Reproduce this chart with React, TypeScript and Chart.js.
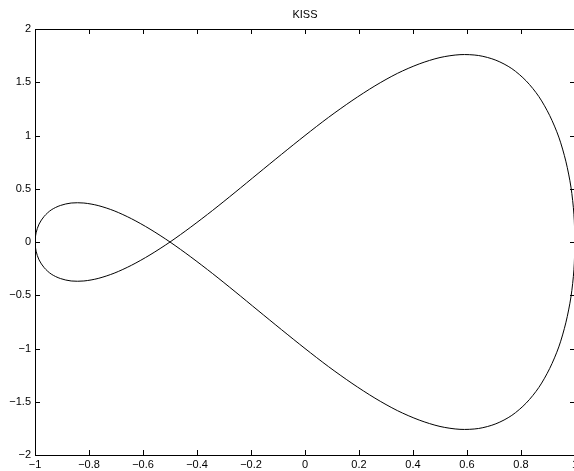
import React, { useEffect, useRef } from "react";
import { Chart, registerables } from "chart.js";

Chart.register(...registerables);

const titleText = "KISS";
// curve points (x, y), traversed once around
const xValues = [
  1, 0.996, 0.985, 0.966, 0.94, 0.906, 0.866, 0.819, 0.766, 0.707, 0.643, 0.574, 0.5, 0.423, 0.342, 0.259, 0.174, 0.087, 0,
  -0.087, -0.174, -0.259, -0.342, -0.423, -0.5, -0.574, -0.643, -0.707, -0.766, -0.819, -0.866, -0.906, -0.94, -0.966, -0.985, -0.996, -1,
  -0.996, -0.985, -0.966, -0.94, -0.906, -0.866, -0.819, -0.766, -0.707, -0.643, -0.574, -0.5, -0.423, -0.342, -0.259, -0.174, -0.087, 0,
  0.087, 0.174, 0.259, 0.342, 0.423, 0.5, 0.574, 0.643, 0.707, 0.766, 0.819, 0.866, 0.906, 0.94, 0.966, 0.985, 0.996, 1,
];
const yValues = [
  0, 0.261, 0.516, 0.759, 0.985, 1.189, 1.366, 1.513, 1.628, 1.707, 1.751, 1.759, 1.732, 1.672, 1.583, 1.466, 1.327, 1.17, 1,
  0.823, 0.643, 0.466, 0.297, 0.14, 0, -0.121, -0.219, -0.293, -0.342, -0.366, -0.366, -0.343, -0.301, -0.241, -0.168, -0.086, 0,
  0.086, 0.168, 0.241, 0.301, 0.343, 0.366, 0.366, 0.342, 0.293, 0.219, 0.121, 0, -0.14, -0.297, -0.466, -0.643, -0.823, -1,
  -1.17, -1.327, -1.466, -1.583, -1.672, -1.732, -1.759, -1.751, -1.707, -1.628, -1.513, -1.366, -1.189, -0.985, -0.759, -0.516, -0.261, 0,
];
const xTicks = [-1, -0.8, -0.6, -0.4, -0.2, 0, 0.2, 0.4, 0.6, 0.8, 1];
const yTicks = [-2, -1.5, -1, -0.5, 0, 0.5, 1, 1.5, 2];

const fontFamily = "'Liberation Sans', Arial, Helvetica, sans-serif";

const fmt = (v: number) => {
  const r = Math.round(v * 10) / 10;
  return String(r).replace("-", "\u2212");
};

const boxPlugin = {
  id: "matlabBox",
  afterDraw(chart: any) {
    const { ctx, chartArea } = chart;
    const { left, right, top, bottom } = chartArea;
    const xs = chart.scales.x;
    const ys = chart.scales.y;
    ctx.save();
    ctx.strokeStyle = "#000";
    ctx.lineWidth = 1;
    ctx.beginPath();
    ctx.rect(Math.round(left) + 0.5, Math.round(top) + 0.5, Math.round(right - left), Math.round(bottom - top));
    ctx.stroke();
    const tl = 5;
    ctx.beginPath();
    xTicks.forEach((v) => {
      const px = Math.round(xs.getPixelForValue(v)) + 0.5;
      ctx.moveTo(px, bottom);
      ctx.lineTo(px, bottom - tl);
      ctx.moveTo(px, top);
      ctx.lineTo(px, top + tl);
    });
    yTicks.forEach((v) => {
      const py = Math.round(ys.getPixelForValue(v)) + 0.5;
      ctx.moveTo(left, py);
      ctx.lineTo(left + tl, py);
      ctx.moveTo(right, py);
      ctx.lineTo(right - tl, py);
    });
    ctx.stroke();
    ctx.fillStyle = "#000";
    ctx.font = `11px ${fontFamily}`;
    ctx.textAlign = "center";
    ctx.textBaseline = "middle";
    ctx.fillText(titleText, (left + right) / 2, 15);
    ctx.restore();
  },
};

export default function App() {
  const ref = useRef<HTMLCanvasElement | null>(null);
  useEffect(() => {
    if (!ref.current) return;
    const points = xValues.map((x, i) => ({ x, y: yValues[i] }));
    const chart = new Chart(ref.current, {
      type: "scatter",
      data: {
        datasets: [
          {
            data: points,
            showLine: true,
            borderColor: "#000",
            borderWidth: 1,
            pointRadius: 0,
            tension: 0.3,
            fill: false,
          },
        ],
      },
      options: {
        animation: false,
        responsive: false,
        maintainAspectRatio: false,
        layout: { padding: { top: 29, right: 1, left: 0, bottom: 0 } },
        plugins: { legend: { display: false }, tooltip: { enabled: false }, title: { display: false } },
        scales: {
          x: {
            type: "linear",
            min: -1,
            max: 1,
            afterFit: (s: any) => {
              s.height = 16;
              s.paddingLeft = 0;
              s.paddingRight = 0;
            },
            afterBuildTicks: (s: any) => {
              s.ticks = xTicks.map((v) => ({ value: v }));
            },
            grid: { display: false, drawTicks: false },
            border: { display: false },
            ticks: {
              padding: 3,
              color: "#000",
              font: { family: fontFamily, size: 11 },
              maxRotation: 0,
              autoSkip: false,
              callback: (v: any) => fmt(Number(v)),
            },
          },
          y: {
            type: "linear",
            min: -2,
            max: 2,
            afterFit: (s: any) => {
              s.width = 35;
              s.paddingTop = 0;
              s.paddingBottom = 0;
            },
            afterBuildTicks: (s: any) => {
              s.ticks = yTicks.map((v) => ({ value: v }));
            },
            grid: { display: false, drawTicks: false },
            border: { display: false },
            ticks: {
              padding: 4,
              color: "#000",
              font: { family: fontFamily, size: 11 },
              autoSkip: false,
              callback: (v: any) => fmt(Number(v)),
            },
          },
        },
      },
      plugins: [boxPlugin],
    });
    return () => chart.destroy();
  }, []);
  return (
    <div style={{ position: "fixed", left: 0, top: 0, width: 576, height: 471, background: "#fff" }}>
      <canvas ref={ref} width={576} height={471} style={{ display: "block", width: 576, height: 471 }} />
    </div>
  );
}
